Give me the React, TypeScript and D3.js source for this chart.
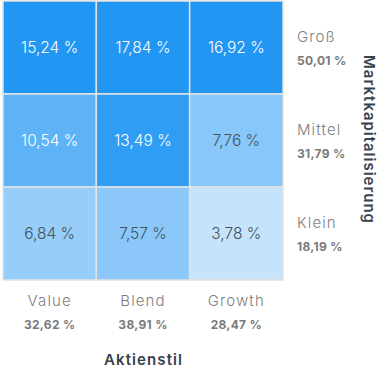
import React from "react";
import * as d3 from "d3";

const styles = ["Value", "Blend", "Growth"];
const styleTotals = ["32,62 %", "38,91 %", "28,47 %"];
const sizes = ["Groß", "Mittel", "Klein"];
const sizeTotals = ["50,01 %", "31,79 %", "18,19 %"];
// rows: Groß, Mittel, Klein; cols: Value, Blend, Growth
const values = [
  [15.24, 17.84, 16.92],
  [10.54, 13.49, 7.76],
  [6.84, 7.57, 3.78],
];
const xTitle = "Aktienstil";
const yTitle = "Marktkapitalisierung";

const W = 383;
const H = 380;
const FONT = "Inter, 'Open Sans', 'DejaVu Sans', sans-serif";

export default function App() {
  const x = d3.scaleBand<string>().domain(styles).range([3, 283]);
  const y = d3.scaleBand<string>().domain(sizes).range([1, 280]);
  const color = d3
    .scaleLinear<string>()
    .domain([0, 14.5])
    .range(["#ffffff", "#2196f3"])
    .clamp(true);
  const fmt = (v: number) => v.toFixed(2).replace(".", ",") + " %";

  return (
    <svg
      width={W}
      height={H}
      style={{ position: "absolute", left: 0, top: 0, fontFamily: FONT }}
    >
      {values.map((row, ri) =>
        row.map((v, ci) => {
          const cx = x(styles[ci])!;
          const cy = y(sizes[ri])!;
          return (
            <g key={`${ri}-${ci}`}>
              <rect
                x={cx}
                y={cy}
                width={x.bandwidth()}
                height={y.bandwidth()}
                fill={color(v)}
                stroke="#e2e2e2"
                strokeWidth={1.5}
              />
              <text
                x={cx + x.bandwidth() / 2}
                y={cy + y.bandwidth() / 2 + 5.5}
                textAnchor="middle"
                fontSize={15.5}
                fontWeight={300}
                fill={v > 9 ? "#ffffff" : "#45525c"}
              >
                {fmt(v)}
              </text>
            </g>
          );
        })
      )}
      {sizes.map((s, i) => {
        const cy = y(s)! + y.bandwidth() / 2;
        return (
          <g key={s}>
            <text x={297} y={cy - 6} fontSize={15} fontWeight={300} fill="#7e7e7e" letterSpacing={1.1}>
              {s}
            </text>
            <text x={297} y={cy + 17} fontSize={12} fontWeight={700} fill="#7a7a7a" letterSpacing={0.3}>
              {sizeTotals[i]}
            </text>
          </g>
        );
      })}
      {styles.map((s, i) => {
        const cx = x(s)! + x.bandwidth() / 2;
        return (
          <g key={s}>
            <text x={cx} y={306} textAnchor="middle" fontSize={15} fontWeight={300} fill="#7e7e7e" letterSpacing={1.1}>
              {s}
            </text>
            <text x={cx} y={329} textAnchor="middle" fontSize={12} fontWeight={700} fill="#7a7a7a" letterSpacing={0.3}>
              {styleTotals[i]}
            </text>
          </g>
        );
      })}
      <text
        x={143}
        y={365}
        textAnchor="middle"
        fontSize={15}
        fontWeight={600}
        fill="#37424a"
        textLength={78}
        lengthAdjust="spacing"
      >
        {xTitle}
      </text>
      <text
        transform={`translate(364, 139) rotate(90)`}
        textAnchor="middle"
        fontSize={15}
        fontWeight={600}
        fill="#37424a"
        textLength={168}
        lengthAdjust="spacing"
      >
        {yTitle}
      </text>
    </svg>
  );
}
